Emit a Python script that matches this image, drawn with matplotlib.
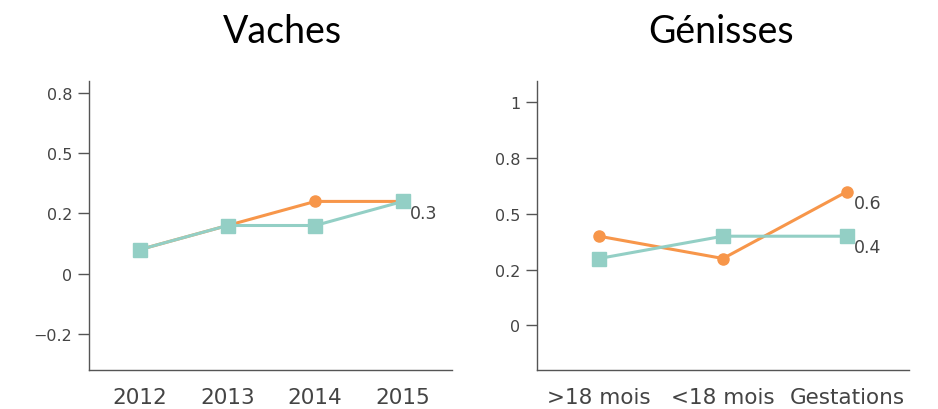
import matplotlib.pyplot as plt

# left panel: Vaches
years = ['2012', '2013', '2014', '2015']
vaches_orange = [0.1, 0.2, 0.3, 0.3]
vaches_teal = [0.1, 0.2, 0.2, 0.3]
vaches_ticks = [-0.25, 0, 0.25, 0.5, 0.75]
vaches_ticklabels = ['\u22120.2', '0', '0.2', '0.5', '0.8']

# right panel: Génisses
groups = ['>18 mois', '<18 mois', 'Gestations']
genisses_orange = [0.4, 0.3, 0.6]
genisses_teal = [0.3, 0.4, 0.4]
genisses_ticks = [0, 0.25, 0.5, 0.75, 1]
genisses_ticklabels = ['0', '0.2', '0.5', '0.8', '1']

orange = '#f7964a'
teal = '#93cfc5'
grey = '#444444'

fig = plt.figure(figsize=(9.38, 4.10), dpi=100)
ax1 = fig.add_axes([89/938, 1-371/410, 363/938, 289/410])
ax2 = fig.add_axes([537/938, 1-371/410, 372/938, 289/410])


def style(ax, ticks, labels):
    for s in ['top', 'right']:
        ax.spines[s].set_visible(False)
    for s in ['left', 'bottom']:
        ax.spines[s].set_color('#555555')
        ax.spines[s].set_linewidth(1.0)
    ax.set_yticks(ticks)
    ax.set_yticklabels(labels)
    ax.tick_params(axis='y', length=8, width=1, color='#555555',
                   labelsize=11.5, labelcolor=grey, pad=4)
    ax.tick_params(axis='x', length=0, labelsize=15.5, labelcolor=grey, pad=12)


def draw(ax, cats, o, t):
    x = range(len(cats))
    ax.plot(x, o, color=orange, lw=2.2, marker='o', ms=8, zorder=2)
    ax.plot(x, t, color=teal, lw=2.2, marker='s', ms=10, zorder=3)
    ax.set_xticks(list(x))
    ax.set_xticklabels(cats)


draw(ax1, years, vaches_orange, vaches_teal)
style(ax1, vaches_ticks, vaches_ticklabels)
ax1.set_xlim(-0.58, 3.56)
ax1.set_ylim(-0.4, 0.8)
ax1.annotate('%.1f' % vaches_orange[-1], (3, vaches_orange[-1]),
             xytext=(5, -8), textcoords='offset points', fontsize=12.5,
             color=grey, ha='left', va='center')

draw(ax2, groups, genisses_orange, genisses_teal)
style(ax2, genisses_ticks, genisses_ticklabels)
ax2.set_xlim(-0.5, 2.5)
ax2.set_ylim(-0.2, 1.096)
for v in [genisses_orange[-1], genisses_teal[-1]]:
    ax2.annotate('%.1f' % v, (2, v), xytext=(5, -8),
                 textcoords='offset points', fontsize=12.5,
                 color=grey, ha='left', va='center')

fig.text(282/938, 1-32/410, 'Vaches', fontsize=27, family='Lato',
         ha='center', va='center', color='black')
fig.text(721/938, 1-32/410, 'Génisses', fontsize=27, family='Lato',
         ha='center', va='center', color='black')

fig.savefig('out.png', dpi=100)
